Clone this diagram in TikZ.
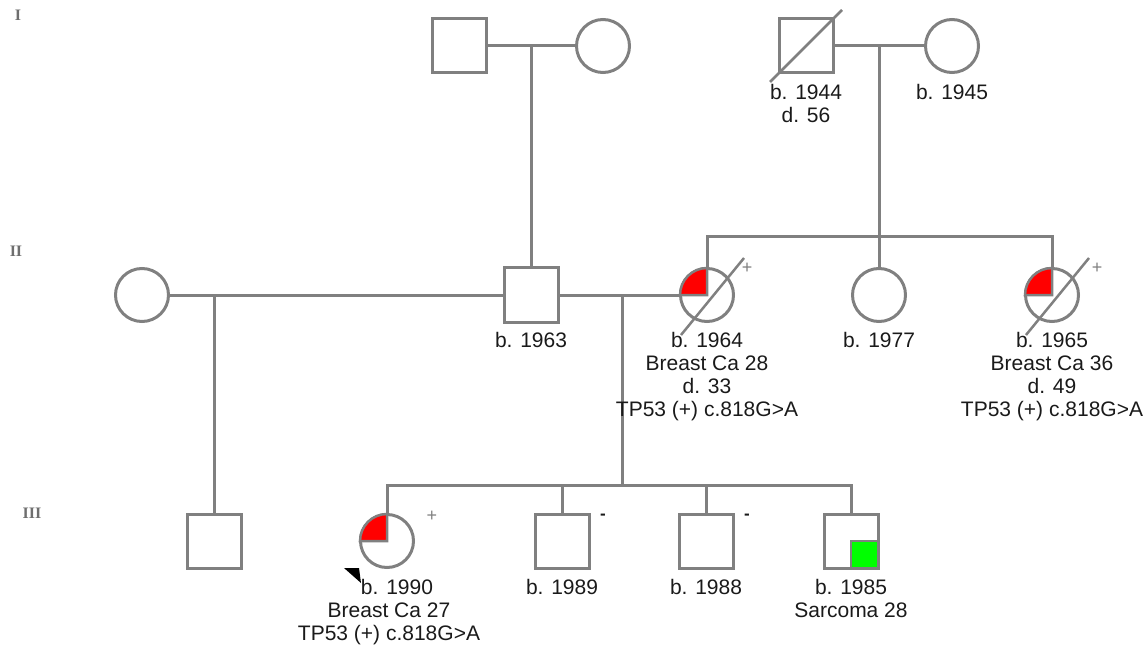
\documentclass[tikz,border=0pt]{standalone}
\usepackage{fontspec}
\setmainfont{Liberation Sans}
\newfontfamily\genfont{Liberation Serif}
\usetikzlibrary{positioning,calc}
\definecolor{LineGray}{HTML}{808080}
\definecolor{AffectedRed}{HTML}{FF0000}
\definecolor{AffectedGreen}{HTML}{00FF00}
\definecolor{TextDark}{HTML}{1A1A1A}
\definecolor{GenGray}{HTML}{6E6E6E}
\tikzset{
  malenode/.style={draw=LineGray,line width=3pt,rectangle,minimum size=54pt,inner sep=0pt},
  femalenode/.style={draw=LineGray,line width=3pt,circle,minimum size=53pt,inner sep=0pt},
  infonode/.style={align=center,inner sep=0pt,font=\fontsize{21}{23}\selectfont,text=TextDark},
  relline/.style={draw=LineGray,line width=3pt},
  deadline/.style={draw=LineGray,line width=2.5pt},
  sector/.style={draw=LineGray,line width=2.5pt},
  gennode/.style={font=\genfont\bfseries\fontsize{16}{18}\selectfont,text=GenGray},
  marknode/.style={font=\fontsize{18}{20}\selectfont,text=LineGray,inner sep=0pt},
  minusnode/.style={font=\fontsize{17}{18}\selectfont\bfseries,text=TextDark,inner sep=0pt}
}
\begin{document}
\begin{tikzpicture}[x=1pt,y=-1pt]
\useasboundingbox (0,0) rectangle (1148,652);
\node[gennode] (genI) at (18,15) {I};
\node[gennode] (genII) at (16,251) {II};
\node[gennode] (genIII) at (32,513) {III};
\node[malenode] (gpA) at (459,46) {};
\node[femalenode] (gmA) at (603,46) {};
\node[malenode] (gpB) at (806,46) {};
\node[femalenode] (gmB) at (952,46) {};
\node[femalenode] (wife) at (142,295) {};
\node[malenode] (father) at (531,295) {};
\node[femalenode] (mother) at (707,295) {};
\node[femalenode] (aunt1) at (879,295) {};
\node[femalenode] (aunt2) at (1052,295) {};
\node[malenode] (halfbro) at (214,541) {};
\node[femalenode] (proband) at (387,541) {};
\node[malenode] (bro1) at (562,541) {};
\node[malenode] (bro2) at (706,541) {};
\node[malenode] (bro3) at (851,541) {};
\coordinate (sibB) at (879,237);
\coordinate (sibC) at (622,485);
\draw[relline] (gpA) -- (gmA);
\draw[relline] ($(gpA)!0.5!(gmA)$) -- (father);
\draw[relline] (gpB) -- (gmB);
\draw[relline] ($(gpB)!0.5!(gmB)$) -- (sibB);
\draw[relline] (mother) -- (mother |- sibB) -- (aunt2 |- sibB) -- (aunt2);
\draw[relline] (aunt1) -- (sibB);
\draw[relline] (wife) -- (father);
\draw[relline] (father) -- (mother);
\draw[relline] (halfbro |- wife) -- (halfbro);
\draw[relline] (sibC |- father) -- (sibC);
\draw[relline] (proband) -- (proband |- sibC) -- (bro3 |- sibC) -- (bro3);
\draw[relline] (bro1) -- (bro1 |- sibC);
\draw[relline] (bro2) -- (bro2 |- sibC);
\filldraw[sector,fill=AffectedRed] (mother.center) -- ++(-27,0) arc[start angle=180,end angle=90,radius=27pt] -- cycle;
\filldraw[sector,fill=AffectedRed] (aunt2.center) -- ++(-27,0) arc[start angle=180,end angle=90,radius=27pt] -- cycle;
\filldraw[sector,fill=AffectedRed] (proband.center) -- ++(-27,0) arc[start angle=180,end angle=90,radius=27pt] -- cycle;
\filldraw[sector,fill=AffectedGreen] (bro3.center) rectangle ($(bro3.center)+(27,27)$);
\draw[deadline] ($(gpB)+(-36,36)$) -- ($(gpB)+(36,-36)$);
\draw[deadline] ($(mother)+(-26,40)$) -- ($(mother)+(37,-37)$);
\draw[deadline] ($(aunt2)+(-26,40)$) -- ($(aunt2)+(37,-37)$);
\fill[black] ($(proband)+(-43,27)$) -- ($(proband)+(-28,27)$) -- ($(proband)+(-26,42)$) -- cycle;
\node[marknode] (plusM) at (747,268) {+};
\node[marknode] (plusA) at (1097,268) {+};
\node[marknode] (plusP) at (432,516) {+};
\node[minusnode] (minus1) at (603,517) {-};
\node[minusnode] (minus2) at (747,517) {-};
\node[infonode,below=10pt of gpB] (lblgpB) {b. 1944\\d. 56};
\node[infonode,below=10pt of gmB] (lblgmB) {b. 1945};
\node[infonode,below=9pt of father] (lblfather) {b. 1963};
\node[infonode,below=9pt of mother] (lblmother) {b. 1964\\Breast Ca 28\\d. 33\\TP53 (+) c.818G>A};
\node[infonode,below=9pt of aunt1] (lblaunt1) {b. 1977};
\node[infonode,below=9pt of aunt2] (lblaunt2) {b. 1965\\Breast Ca 36\\d. 49\\TP53 (+) c.818G>A};
\node[infonode,below=10pt of proband,xshift=2pt] (lblproband) {\hspace{16pt}b. 1990\\Breast Ca 27\\TP53 (+) c.818G>A};
\node[infonode,below=10pt of bro1] (lblbro1) {b. 1989};
\node[infonode,below=10pt of bro2] (lblbro2) {b. 1988};
\node[infonode,below=10pt of bro3] (lblbro3) {b. 1985\\Sarcoma 28};
\end{tikzpicture}
\end{document}
